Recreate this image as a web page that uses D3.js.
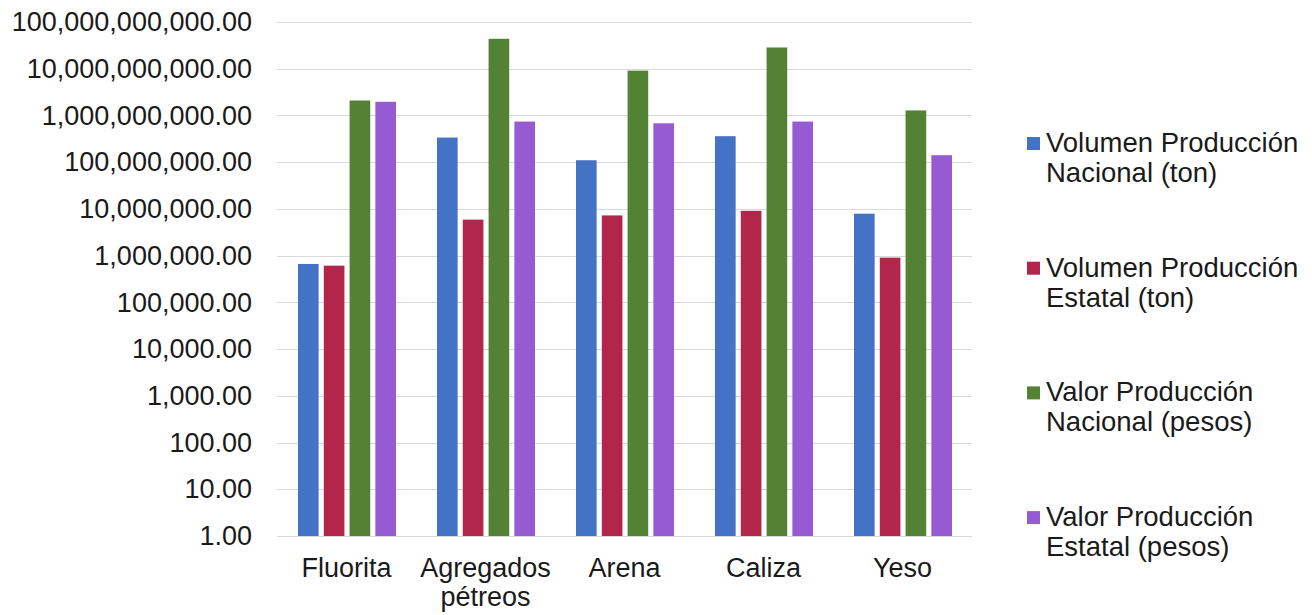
<!DOCTYPE html>
<html>
<head>
<meta charset="utf-8">
<script src="https://cdn.jsdelivr.net/npm/d3@7"></script>
<style>
  html, body { margin: 0; padding: 0; background: #fff; }
  svg { display: block; font-family: "Liberation Sans", Arial, sans-serif; }
</style>
</head>
<body>
<svg id="chart" width="1312" height="615"></svg>
<script>
// Minerals shown on the x axis (second line breaks where "\n" appears)
const categories = ["Fluorita", "Agregados\npétreos", "Arena", "Caliza", "Yeso"];

// Series names and values, one per mineral
const seriesNames = [
  "Volumen Producción Nacional (ton)",
  "Volumen Producción Estatal (ton)",
  "Valor Producción Nacional (pesos)",
  "Valor Producción Estatal (pesos)"
];
const volumenNacional = [664000, 336000000, 110000000, 360000000, 7900000];
const volumenEstatal  = [610000, 5900000, 7250000, 9100000, 906000];
const valorNacional   = [2090000000, 43700000000, 9100000000, 28500000000, 1280000000];
const valorEstatal    = [1960000000, 740000000, 680000000, 740000000, 141000000];

// Log axis tick values
const yTicks = [1, 10, 100, 1000, 1e4, 1e5, 1e6, 1e7, 1e8, 1e9, 1e10, 1e11];

const seriesValues = [volumenNacional, volumenEstatal, valorNacional, valorEstatal];
const colors = ["#4472c4", "#b1264a", "#548235", "#965ad3"];

const svg = d3.select("#chart");
const plot = { left: 277, right: 972, top: 22, bottom: 536 };

const y = d3.scaleLog().domain([1, 1e11]).range([plot.bottom, plot.top]);
const x = d3.scaleBand().domain(categories).range([plot.left, plot.right]).padding(0);
const xs = d3.scaleBand().domain(d3.range(seriesNames.length))
  .range([21, x.bandwidth() - 20]).paddingInner(0.2).paddingOuter(0);

const fmt = d3.format(",.2f");

// Horizontal gridlines
svg.append("g").selectAll("line").data(yTicks).join("line")
  .attr("x1", plot.left).attr("x2", plot.right)
  .attr("y1", d => Math.round(y(d)) + 0.5).attr("y2", d => Math.round(y(d)) + 0.5)
  .attr("stroke", "#d9d9d9").attr("stroke-width", 1);

// Y axis labels
const yAxis = d3.axisLeft(y).tickValues(yTicks).tickFormat(fmt).tickSize(0).tickPadding(0);
const gy = svg.append("g").attr("transform", `translate(252,0)`).call(yAxis);
gy.select(".domain").remove();
gy.selectAll("text")
  .attr("font-size", 27)
  .attr("fill", "#1a1a1a")
  .attr("font-family", "Liberation Sans, Arial, sans-serif");

// Bars
const rows = categories.map((c, i) => ({ cat: c, vals: seriesValues.map(s => s[i]) }));
const groups = svg.append("g").selectAll("g").data(rows).join("g")
  .attr("transform", d => `translate(${x(d.cat)},0)`);
groups.selectAll("rect").data(d => d.vals.map((v, k) => ({ v, k }))).join("rect")
  .attr("x", d => xs(d.k))
  .attr("width", xs.bandwidth())
  .attr("y", d => y(d.v))
  .attr("height", d => y(1) - y(d.v))
  .attr("fill", d => colors[d.k]);

// X axis labels
const xl = svg.append("g");
categories.forEach(c => {
  const lines = c.split("\n");
  const t = xl.append("text")
    .attr("x", x(c) + x.bandwidth() / 2)
    .attr("y", 577)
    .attr("text-anchor", "middle")
    .attr("font-size", 27)
    .attr("fill", "#1a1a1a");
  lines.forEach((ln, i) => {
    t.append("tspan").attr("x", x(c) + x.bandwidth() / 2).attr("dy", i === 0 ? 0 : 29).text(ln);
  });
});

// Legend
const legendLines = [
  ["Volumen Producción", "Nacional (ton)"],
  ["Volumen Producción", "Estatal (ton)"],
  ["Valor Producción", "Nacional (pesos)"],
  ["Valor Producción", "Estatal (pesos)"]
];
const lg = svg.append("g");
legendLines.forEach((lines, i) => {
  const base = 152 + i * 124.7;
  lg.append("rect").attr("x", 1027).attr("y", base - 15).attr("width", 13).attr("height", 13)
    .attr("fill", colors[i]);
  const t = lg.append("text").attr("x", 1046).attr("y", base)
    .attr("font-size", 27.5).attr("fill", "#1a1a1a");
  lines.forEach((ln, j) => {
    t.append("tspan").attr("x", 1046).attr("dy", j === 0 ? 0 : 30).text(ln);
  });
});
</script>
</body>
</html>
